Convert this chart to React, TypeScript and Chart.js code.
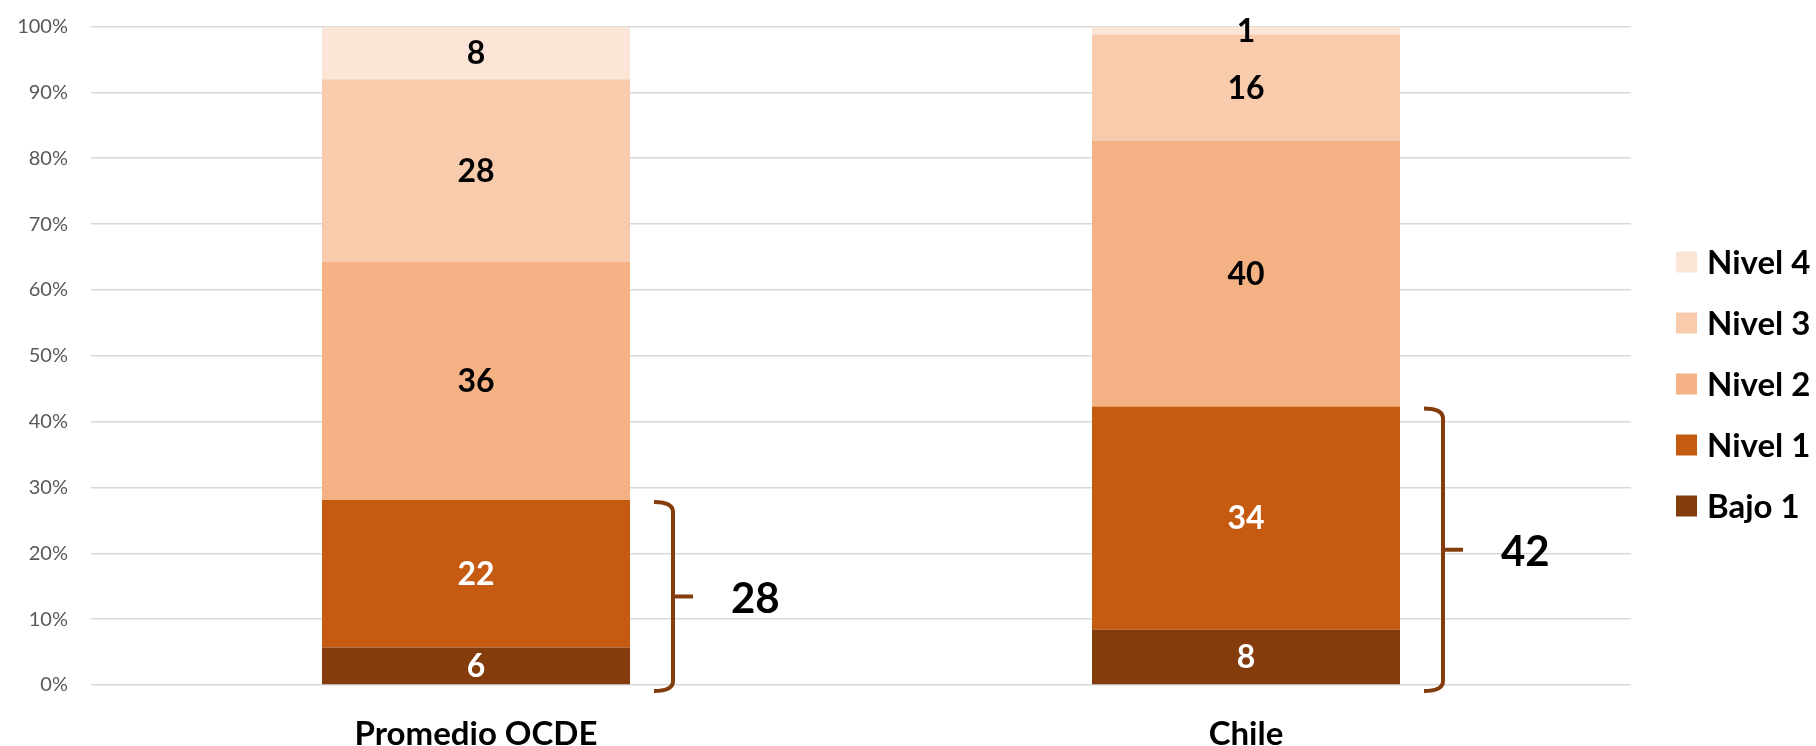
import React, { useEffect, useRef } from "react";
import { Chart, registerables } from "chart.js";

Chart.register(...registerables);

const categories = ["Promedio OCDE", "Chile"];
const seriesNames = ["Bajo 1", "Nivel 1", "Nivel 2", "Nivel 3", "Nivel 4"];
const bajo1 = [5.7, 8.4];
const nivel1 = [22.4, 33.9];
const nivel2 = [36.2, 40.4];
const nivel3 = [27.7, 16.1];
const nivel4 = [8.0, 1.2];
const bracketTotals = [28, 42];
const yMin = 0;
const yMax = 100;
const yStep = 10;

const seriesColors = ["#843C0C", "#C55A11", "#F4B183", "#F8CBAD", "#FBE5D6"];
const labelColors = ["#FFFFFF", "#FFFFFF", "#000000", "#000000", "#000000"];
const FONT = "Lato, 'Noto Sans', sans-serif";

const overlayPlugin = {
  id: "overlay",
  afterDatasetsDraw(chart: any) {
    const ctx = chart.ctx;
    const ys = chart.scales.y;
    ctx.save();
    // data labels
    chart.data.datasets.forEach((ds: any, di: number) => {
      const meta = chart.getDatasetMeta(di);
      meta.data.forEach((bar: any, i: number) => {
        const v = ds.data[i];
        const cy = (bar.y + bar.base) / 2;
        ctx.font = `bold 32px ${FONT}`;
        ctx.fillStyle = labelColors[di];
        ctx.textAlign = "center";
        ctx.textBaseline = "middle";
        ctx.fillText(String(Math.round(v)), bar.x, cy + 1);
      });
    });
    // brackets
    const meta1 = chart.getDatasetMeta(1);
    meta1.data.forEach((bar: any, i: number) => {
      const right = bar.x + bar.width / 2;
      const xv = right + 43;
      const xl = xv - 19;
      const xt = xv + 20;
      const top = ys.getPixelForValue(bajo1[i] + nivel1[i]) + 2;
      const bottom = ys.getPixelForValue(0) + 6;
      const mid = (top + bottom) / 2;
      ctx.strokeStyle = "#843C0C";
      ctx.lineWidth = 4;
      ctx.lineCap = "butt";
      ctx.lineJoin = "round";
      ctx.beginPath();
      ctx.moveTo(xl, top);
      ctx.quadraticCurveTo(xv, top, xv, top + 10);
      ctx.lineTo(xv, bottom - 10);
      ctx.quadraticCurveTo(xv, bottom, xl, bottom);
      ctx.stroke();
      ctx.beginPath();
      ctx.moveTo(xv, mid);
      ctx.lineTo(xt, mid);
      ctx.stroke();
      ctx.font = `bold 42px ${FONT}`;
      ctx.fillStyle = "#000000";
      ctx.textAlign = "left";
      ctx.textBaseline = "middle";
      ctx.fillText(String(bracketTotals[i]), xt + 38, mid + 3);
    });
    // legend (reversed order: Nivel 4 on top)
    const boxX = chart.chartArea.right + 45;
    const centerY = 384;
    const spacing = 61;
    const n = chart.data.datasets.length;
    for (let k = 0; k < n; k++) {
      const di = n - 1 - k;
      const ds = chart.data.datasets[di];
      const y = centerY + (k - (n - 1) / 2) * spacing;
      ctx.fillStyle = ds.backgroundColor;
      ctx.fillRect(boxX, y - 10.5, 21, 21);
      ctx.font = `bold 33px ${FONT}`;
      ctx.fillStyle = "#000000";
      ctx.textAlign = "left";
      ctx.textBaseline = "middle";
      ctx.fillText(ds.label, boxX + 31, y + 1);
    }
    ctx.restore();
  },
};

export default function App() {
  const ref = useRef<HTMLCanvasElement | null>(null);
  useEffect(() => {
    if (!ref.current) return;
    const values = [bajo1, nivel1, nivel2, nivel3, nivel4];
    const chart = new Chart(ref.current, {
      type: "bar",
      data: {
        labels: categories,
        datasets: seriesNames.map((name, i) => ({
          label: name,
          data: values[i],
          backgroundColor: seriesColors[i],
          borderWidth: 0,
          categoryPercentage: 0.4,
          barPercentage: 1,
        })),
      },
      options: {
        animation: false,
        responsive: true,
        maintainAspectRatio: false,
        events: [],
        layout: { padding: { left: 0, right: 185, top: 26.5, bottom: 0 } },
        plugins: {
          legend: { display: false },
          tooltip: { enabled: false },
          title: { display: false },
        },
        scales: {
          x: {
            stacked: true,
            grid: { display: false, drawTicks: false },
            border: { display: false },
            ticks: {
              padding: 30,
              color: "#000000",
              font: { family: FONT, size: 33, weight: "bold" },
            },
            afterFit(scale: any) {
              scale.height = 61;
            },
          },
          y: {
            stacked: true,
            min: yMin,
            max: yMax,
            grid: { color: "#D9D9D9", lineWidth: 1.5, drawTicks: false },
            border: { display: false },
            ticks: {
              stepSize: yStep,
              padding: 23,
              color: "#595959",
              font: { family: FONT, size: 20 },
              callback: (v: any) => `${v}%`,
            },
            afterFit(scale: any) {
              scale.width = 91;
              scale.paddingTop = 0;
              scale.paddingBottom = 0;
            },
          },
        },
      },
      plugins: [overlayPlugin],
    });
    return () => chart.destroy();
  }, []);
  return (
    <div style={{ position: "fixed", left: 0, top: 0, width: 1816, height: 746, background: "#fff" }}>
      <canvas ref={ref} />
    </div>
  );
}
